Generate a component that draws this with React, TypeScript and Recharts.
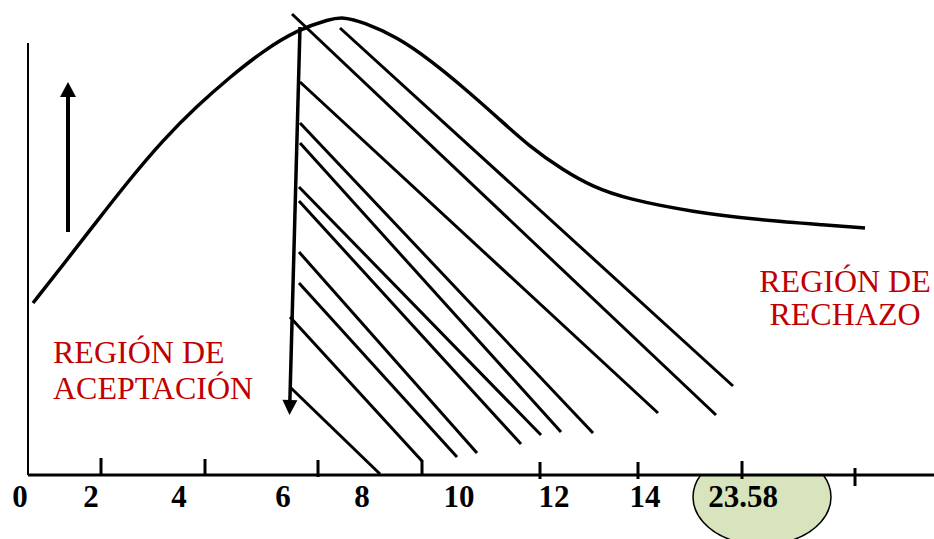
import { ComposedChart, Line, XAxis, YAxis, ReferenceLine, ReferenceDot, ReferenceArea } from 'recharts'

// diagram units: x runs across the figure, y is the height above the horizontal axis
const curveX = [33, 63, 97, 130, 163, 197, 230, 263, 297, 330, 343, 363, 397, 430, 463, 497, 530, 563, 593, 627, 693, 760, 827, 865]
const curveY = [172, 210, 254, 296, 335, 369, 398, 424, 445, 456, 458, 453, 438, 415, 388, 358, 328, 305, 288, 276, 263, 255, 250, 247]

// hatching of the rejection region
const hatchFrom = [[292, 461], [340, 447], [300, 393], [300, 352], [300, 332], [299, 288], [299, 274], [299, 223], [299, 192], [290, 158], [291, 87]]
const hatchTo = [[716, 60], [733, 89], [658, 62], [593, 42], [561, 43], [541, 40], [521, 31], [477, 22], [457, 18], [422, 14], [380, 1]]

const tickMarkX = [101, 205, 318, 422, 540, 638, 742, 855]
const tickMarkTop = [17, 16, 15, 15, 13, 13, 14, 7]
const tickMarkBottom = [0, 0, -2, -1, -4, -4, -4, -11]

const tickLabelX = [20, 91, 179, 283, 362, 459, 554, 645, 743]
const tickLabels = ['0', '2', '4', '6', '8', '10', '12', '14', '23.58']

const downArrow = [[300, 448], [289.5, 60]]
const upArrow = [[68, 243], [68, 393]]

// critical value ellipse (part under the axis)
const ellipseX = [693, 831]
const ellipseY = [-70, 0]
const ellipseRy = 48

const acceptLines = ['REGIÓN DE', 'ACEPTACIÓN']
const acceptAt = [53, 112]
const rejectLines = ['REGIÓN DE', 'RECHAZO']
const rejectAt = [845, 183]

const serif = 'Liberation Serif, Times New Roman, serif'

const curveData = curveX.map((x, i) => ({ x, y: curveY[i] }))

const arrowShape = (width: number, head: number, half: number) => (p: any) => {
  const { x1, y1, x2, y2 } = p
  const dx = x2 - x1
  const dy = y2 - y1
  const len = Math.hypot(dx, dy)
  const ux = dx / len
  const uy = dy / len
  const bx = x2 - ux * head
  const by = y2 - uy * head
  return (
    <g>
      <line x1={x1} y1={y1} x2={bx} y2={by} stroke="#000" strokeWidth={width} />
      <polygon
        points={`${x2},${y2} ${bx - uy * half},${by + ux * half} ${bx + uy * half},${by - ux * half}`}
        fill="#000"
      />
    </g>
  )
}

const EllipseCut = (p: any) => {
  const { x, y, width, height } = p
  const rx = width / 2
  const cx = x + rx
  const cy = y + height - ellipseRy
  const dy = y - cy
  const hw = rx * Math.sqrt(Math.max(0, 1 - (dy * dy) / (ellipseRy * ellipseRy)))
  return (
    <path
      d={`M${cx - hw},${y} A${rx},${ellipseRy} 0 1 0 ${cx + hw},${y} Z`}
      fill="#d7e4bd"
      stroke="#000"
      strokeWidth={1.5}
    />
  )
}

const regionText = (lines: string[], anchor: 'start' | 'middle', gap: number) => (p: any) => (
  <text x={p.cx} y={p.cy} textAnchor={anchor} fill="#c00000" style={{ fontFamily: serif, fontSize: 32 }}>
    {lines.map((l, i) => (
      <tspan key={i} x={p.cx} dy={i === 0 ? 0 : gap}>{l}</tspan>
    ))}
  </text>
)

const TickLabel = (props: any) => {
  const { x, y, payload } = props
  const i = tickLabelX.indexOf(payload.value)
  return (
    <text x={x} y={y + 32} textAnchor="middle" fill="#000" style={{ fontFamily: serif, fontWeight: 'bold', fontSize: 31 }}>
      {tickLabels[i]}
    </text>
  )
}

export default function App() {
  return (
    <div style={{ position: 'absolute', left: 0, top: 0, width: 934, height: 539, background: '#fff' }}>
      <ComposedChart width={934} height={539} data={curveData} margin={{ top: 0, right: 0, bottom: 0, left: 0 }}>
        <XAxis
          dataKey="x"
          type="number"
          domain={[0, 934]}
          ticks={tickLabelX}
          interval={0}
          axisLine={false}
          tickLine={false}
          tickSize={0}
          tickMargin={0}
          height={64}
          tick={<TickLabel />}
        />
        <YAxis type="number" domain={[0, 475]} hide />

        <ReferenceArea x1={ellipseX[0]} x2={ellipseX[1]} y1={ellipseY[0]} y2={ellipseY[1]} ifOverflow="visible" shape={EllipseCut} />

        <Line dataKey="y" type="basis" stroke="#000" strokeWidth={3.5} dot={false} activeDot={false} isAnimationActive={false} />

        {hatchFrom.map((f, i) => (
          <ReferenceLine
            key={'h' + i}
            segment={[{ x: f[0], y: f[1] }, { x: hatchTo[i][0], y: hatchTo[i][1] }]}
            stroke="#000"
            strokeWidth={3}
            ifOverflow="visible"
          />
        ))}

        {/* axes */}
        <ReferenceLine segment={[{ x: 28, y: 432 }, { x: 28, y: 0 }]} stroke="#000" strokeWidth={2} ifOverflow="visible" />
        <ReferenceLine segment={[{ x: 28, y: 0 }, { x: 934, y: 0 }]} stroke="#000" strokeWidth={3} ifOverflow="visible" />
        {tickMarkX.map((x, i) => (
          <ReferenceLine
            key={'t' + i}
            segment={[{ x, y: tickMarkTop[i] }, { x, y: tickMarkBottom[i] }]}
            stroke="#000"
            strokeWidth={3}
            ifOverflow="visible"
          />
        ))}

        <ReferenceLine
          segment={[{ x: downArrow[0][0], y: downArrow[0][1] }, { x: downArrow[1][0], y: downArrow[1][1] }]}
          ifOverflow="visible"
          shape={arrowShape(3.5, 15, 7.5)}
        />
        <ReferenceLine
          segment={[{ x: upArrow[0][0], y: upArrow[0][1] }, { x: upArrow[1][0], y: upArrow[1][1] }]}
          ifOverflow="visible"
          shape={arrowShape(4, 15, 8)}
        />

        <ReferenceDot x={acceptAt[0]} y={acceptAt[1]} ifOverflow="visible" shape={regionText(acceptLines, 'start', 36)} />
        <ReferenceDot x={rejectAt[0]} y={rejectAt[1]} ifOverflow="visible" shape={regionText(rejectLines, 'middle', 33)} />
      </ComposedChart>
    </div>
  )
}
